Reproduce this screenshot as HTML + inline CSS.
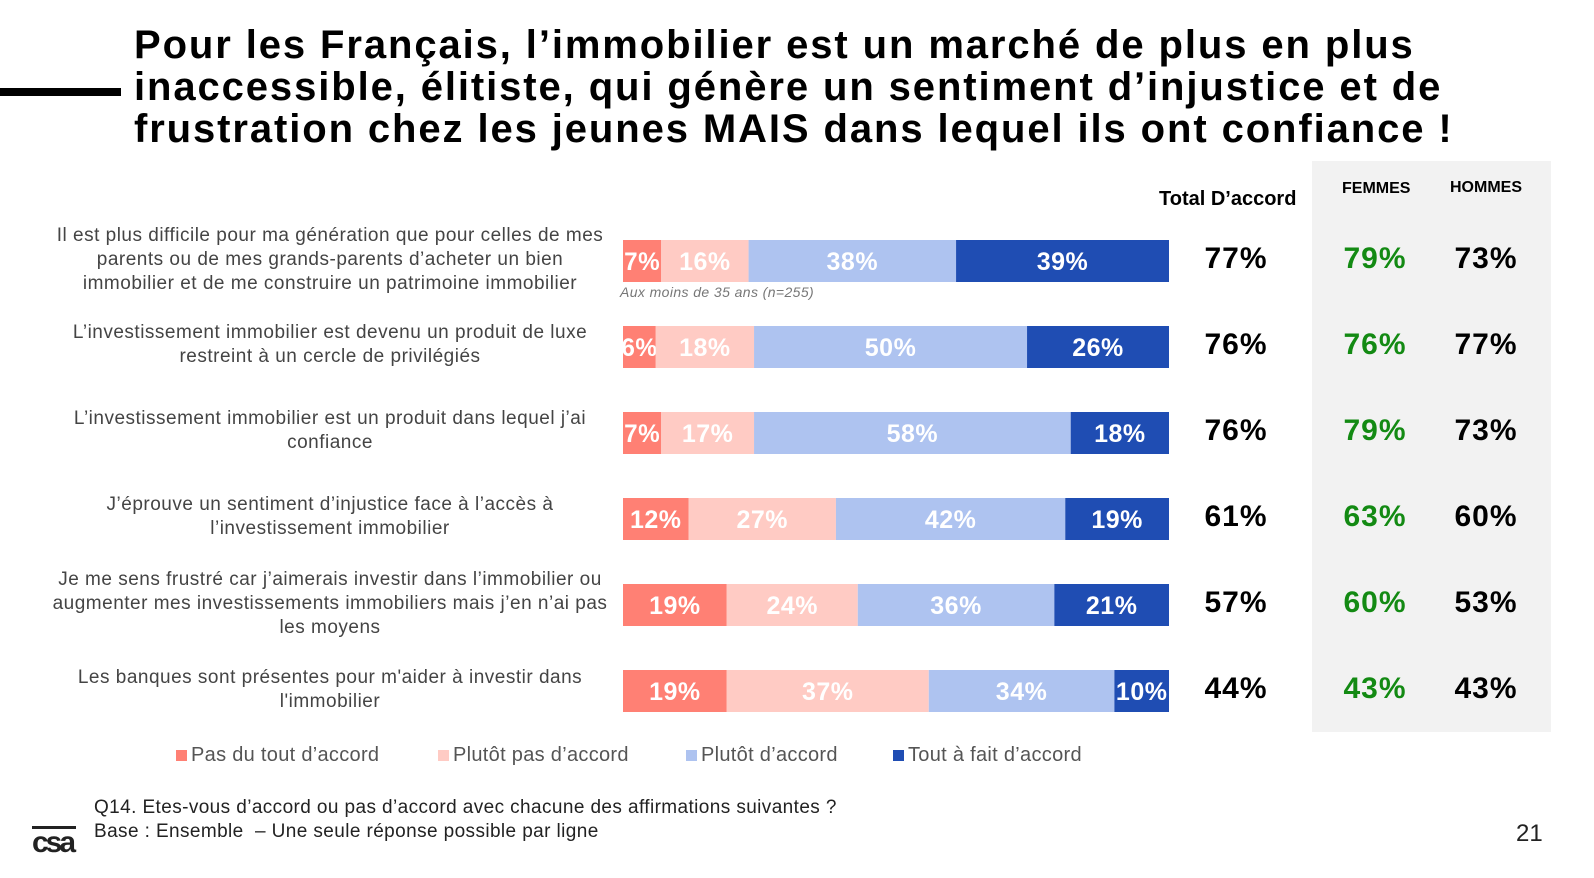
<!DOCTYPE html>
<html><head><meta charset="utf-8">
<style>
body{margin:0;width:1594px;height:878px;background:#fff;font-family:"Liberation Sans",sans-serif;position:relative;overflow:hidden}
.a{position:absolute}
#title{left:134px;top:24px;font-size:40px;font-weight:bold;line-height:42px;color:#000;letter-spacing:1.9px;white-space:nowrap}
.lab{position:absolute;left:50px;width:560px;text-align:center;font-size:19px;color:#444;line-height:24px;letter-spacing:0.5px}
.num{position:absolute;font-size:30px;font-weight:bold;width:120px;text-align:center;letter-spacing:1px}
.leg{position:absolute;top:744px;font-size:20px;color:#555;letter-spacing:0.3px}
.sw{display:inline-block;width:11px;height:11px;margin-right:4px}
</style></head><body>
<div class="a" style="left:0;top:88px;width:121px;height:8px;background:#000"></div>
<div class="a" id="title">Pour les Français, l’immobilier est un marché de plus en plus<br>inaccessible, élitiste, qui génère un sentiment d’injustice et de<br>frustration chez les jeunes MAIS dans lequel ils ont confiance !</div>
<div class="a" style="left:1312px;top:161px;width:239px;height:571px;background:#f2f2f2"></div>
<div class="a" style="left:1159px;top:188px;font-size:20px;font-weight:bold">Total D’accord</div>
<div class="a" style="left:1342px;top:180px;font-size:16px;font-weight:bold">FEMMES</div>
<div class="a" style="left:1450px;top:179px;font-size:16px;font-weight:bold">HOMMES</div>
<svg class="a" id="chart" style="left:0;top:0" width="1594" height="878"></svg>
<div id="labels"></div>
<div class="a" style="left:620px;top:284px;font-size:14px;font-style:italic;color:#777;letter-spacing:0.4px">Aux moins de 35 ans (n=255)</div>
<div class="leg" style="left:176px"><span class="sw" style="background:#FF8074"></span>Pas du tout d’accord</div>
<div class="leg" style="left:438px"><span class="sw" style="background:#FFCBC4"></span>Plutôt pas d’accord</div>
<div class="leg" style="left:686px"><span class="sw" style="background:#AEC3F0"></span>Plutôt d’accord</div>
<div class="leg" style="left:893px"><span class="sw" style="background:#1F4DB3"></span>Tout à fait d’accord</div>
<div class="a" style="left:94px;top:796px;font-size:19px;color:#222;line-height:24px;letter-spacing:0.4px">Q14. Etes-vous d’accord ou pas d’accord avec chacune des affirmations suivantes ?<br>Base : Ensemble &nbsp;– Une seule réponse possible par ligne</div>
<div class="a" style="left:32px;top:826px;width:44px;border-top:3px solid #222;font-size:30px;font-weight:bold;letter-spacing:-3px;line-height:28px;color:#222">csa</div>
<div class="a" style="left:1516px;top:820px;font-size:24px;color:#222">21</div>
<script>
const statements=["Il est plus difficile pour ma génération que pour celles de mes parents ou de mes grands-parents d’acheter un bien immobilier et de me construire un patrimoine immobilier","L’investissement immobilier est devenu un produit de luxe restreint à un cercle de privilégiés","L’investissement immobilier est un produit dans lequel j’ai confiance","J’éprouve un sentiment d’injustice face à l’accès à l’investissement immobilier","Je me sens frustré car j’aimerais investir dans l’immobilier ou augmenter mes investissements immobiliers mais j’en n’ai pas les moyens","Les banques sont présentes pour m'aider à investir dans l'immobilier"];
const pasDuTout=[7,6,7,12,19,19];
const plutotPas=[16,18,17,27,24,37];
const plutot=[38,50,58,42,36,34];
const toutAFait=[39,26,18,19,21,10];
const totalAccord=[77,76,76,61,57,44];
const femmes=[79,76,79,63,60,43];
const hommes=[73,77,73,60,53,43];
const series=[pasDuTout,plutotPas,plutot,toutAFait];
const colors=["#FF8074","#FFCBC4","#AEC3F0","#1F4DB3"];
const X0=623,W=546,Y0=240,STEP=86,H=42;
const svg=document.getElementById('chart'),NS="http://www.w3.org/2000/svg";
const labs=document.getElementById('labels');
const labTops=[224,321,407,493,568,666];
statements.forEach((s,i)=>{
  const tot=series.reduce((a,sr)=>a+sr[i],0);
  let x=X0;const y=Y0+i*STEP;
  series.forEach((sr,k)=>{
    const w=sr[i]/tot*W;
    const r=document.createElementNS(NS,'rect');
    
    
    r.setAttribute('x',x);r.setAttribute('y',y);r.setAttribute('width',w);r.setAttribute('height',H);r.setAttribute('fill',colors[k]);
    svg.appendChild(r);
    const t=document.createElementNS(NS,'text');
    
    
    t.setAttribute('x',x+w/2);t.setAttribute('y',y+30);t.setAttribute('text-anchor','middle');
    t.setAttribute('fill','#fff');t.setAttribute('font-size','25');t.setAttribute('font-weight','bold');
    t.setAttribute('font-family','Liberation Sans, sans-serif');
    t.setAttribute('letter-spacing','0.5');
    if(w<45){t.setAttribute('textLength',36);t.setAttribute('lengthAdjust','spacingAndGlyphs');}
    t.textContent=sr[i]+'%';
    svg.appendChild(t);
    x+=w;
  });
  const l=document.createElement('div');l.className='lab';
  
  
  l.style.top=labTops[i]+'px';l.textContent=s;
  labs.appendChild(l);
  [[totalAccord,1176,'#000'],[femmes,1315,'#138A13'],[hommes,1426,'#000']].forEach(([arr,lx,c])=>{
    const d=document.createElement('div');d.className='num';
    
    
    d.style.left=lx+'px';d.style.top=(y+2)+'px';d.style.color=c;d.textContent=arr[i]+'%';
    labs.appendChild(d);
  });
});
</script>
</body></html>
